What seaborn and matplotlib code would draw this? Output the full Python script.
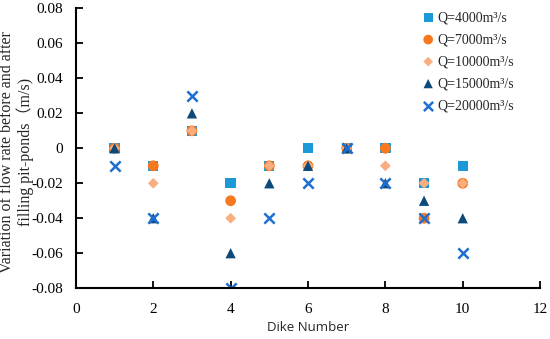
#------------------------------------------------------------------------------
# Libraries
#------------------------------------------------------------------------------

import numpy as np
import pandas as pd
import seaborn as sns
import matplotlib.pyplot as plt
from matplotlib.ticker import FuncFormatter

#------------------------------------------------------------------------------
# Data
#------------------------------------------------------------------------------

dikes = [1, 2, 3, 4, 5, 6, 7, 8, 9, 10]
q4000 = [0, -0.01, 0.01, -0.02, -0.01, 0, 0, 0, -0.02, -0.01]
q7000 = [0, -0.01, 0.01, -0.03, -0.01, -0.01, 0, 0, -0.04, -0.02]
q10000 = [0, -0.02, 0.01, -0.04, -0.01, -0.01, 0, -0.01, -0.02, -0.02]
q15000 = [0, -0.04, 0.02, -0.06, -0.02, -0.01, 0, -0.02, -0.03, -0.04]
q20000 = [-0.01, -0.04, 0.03, -0.08, -0.04, -0.02, 0, -0.02, -0.04, -0.06]

labels = ['Q=4000m³/s', 'Q=7000m³/s', 'Q=10000m³/s', 'Q=15000m³/s', 'Q=20000m³/s']
series = [q4000, q7000, q10000, q15000, q20000]

df = pd.concat([pd.DataFrame({'dike': dikes, 'value': s, 'Q': lab})
                for s, lab in zip(series, labels)], ignore_index=True)

palette = dict(zip(labels, ['#1c9ad8', '#f7791f', '#f9ad80', '#0b4a7a', '#1f6fd0']))
markers = dict(zip(labels, ['s', 'o', 'D', '^', 'X']))
sizes = {'s': 55, 'o': 60, 'D': 30, '^': 55, 'X': 60}

#------------------------------------------------------------------------------
# Plot
#------------------------------------------------------------------------------

sns.set_style('ticks')
plt.rcParams['font.family'] = ['Liberation Serif', 'Noto Sans CJK SC', 'DejaVu Sans']

fig, ax = plt.subplots(figsize=(5.5, 3.39), dpi=100)
fig.subplots_adjust(left=0.138, right=0.982, top=0.975, bottom=0.15)

for lab in labels:
    sub = df[df['Q'] == lab]
    m = markers[lab]
    if m == 'X':
        sns.scatterplot(data=sub, x='dike', y='value', ax=ax, marker='x',
                        color=palette[lab], s=55, linewidth=1.8, label=lab)
    else:
        sns.scatterplot(data=sub, x='dike', y='value', ax=ax, marker=m,
                        color=palette[lab], s=sizes[m], edgecolor='none', label=lab)

ax.set_xlim(0, 12)
ax.set_ylim(-0.08, 0.08)
ax.set_xticks(np.arange(0, 13, 2))
ax.set_yticks(np.arange(-0.08, 0.081, 0.02))
ax.yaxis.set_major_formatter(FuncFormatter(lambda v, p: '0' if abs(v) < 1e-9 else f'{v:.2f}'))
ax.tick_params(direction='in', length=5, width=1.3, labelsize=11, colors='black')
ax.tick_params(axis='x', pad=11)
ax.tick_params(axis='y', pad=9)

sns.despine(ax=ax)
for sp in ['left', 'bottom']:
    ax.spines[sp].set_linewidth(1.5)
    ax.spines[sp].set_color('black')

ax.set_xlabel('Dike Number', family=['Open Sans', 'DejaVu Sans'], fontsize=9.5, labelpad=3)
ax.set_ylabel('Variation of flow rate before and after\nfilling pit-ponds（m/s)',
              fontsize=11.5, linespacing=1.1)
ax.yaxis.set_label_coords(-0.091, 0.486)

leg = ax.legend(loc='upper left', bbox_to_anchor=(0.717, 1.035), frameon=False,
                fontsize=10, handlelength=1.0, handletextpad=0.15,
                labelspacing=0.65, markerscale=0.9)

fig.savefig('out.png', dpi=100)
